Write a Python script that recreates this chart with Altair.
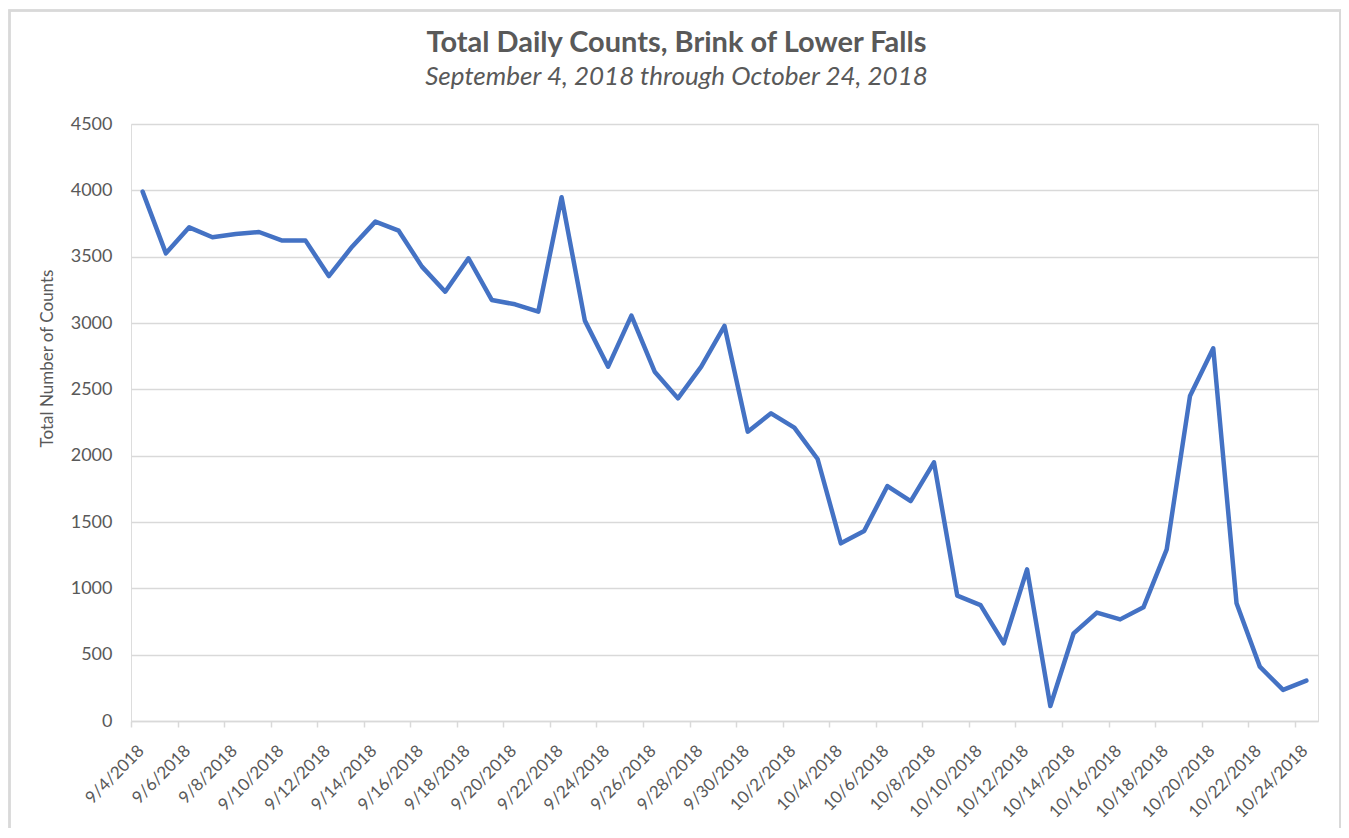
import altair as alt
import pandas as pd

# ---- data ----
start_date = "2018-09-04"
end_date = "2018-10-24"
counts = [
    3990, 3525, 3721, 3646, 3671, 3686, 3621, 3621, 3354, 3575,
    3764, 3696, 3425, 3236, 3488, 3174, 3141, 3086, 3948, 3018,
    2671, 3056, 2633, 2432, 2671, 2978, 2181, 2319, 2211, 1975,
    1339, 1432, 1771, 1658, 1950, 945, 874, 585, 1143, 113,
    661, 817, 766, 857, 1294, 2450, 2809, 887, 410, 234, 304,
]
y_ticks = [0, 500, 1000, 1500, 2000, 2500, 3000, 3500, 4000, 4500]
title_text = "Total Daily Counts, Brink of Lower Falls"
subtitle_text = "September 4, 2018 through October 24, 2018"
y_title = "Total Number of Counts"

dates = pd.date_range(start_date, end_date, freq="D")
df = pd.DataFrame({"date": dates.strftime("%Y-%m-%d"), "count": counts})

tick_dates = [
    alt.DateTime(year=d.year, month=d.month, date=d.day, utc=True) for d in dates[::2]
]

W, H = 1187, 597
GRID = "#d9d9d9"
TXT = "#595959"
FONT = "Lato"

line = alt.Chart(df).mark_line(
    color="#4472C4", strokeWidth=4.5, strokeJoin="round", strokeCap="round"
).encode(
    x=alt.X(
        "date:T",
        timeUnit="utcyearmonthdate",
        bandPosition=0.5,
        scale=alt.Scale(
            type="utc",
            domain=[
                alt.DateTime(year=2018, month=9, date=4, utc=True),
                alt.DateTime(year=2018, month=10, date=25, utc=True),
            ],
        ),
        axis=alt.Axis(
            title=None,
            values=tick_dates,
            format="%-m/%-d/%Y",
            labelAngle=-45,
            labelAlign="right",
            labelBaseline="middle",
            labelOffset=10,
            labelPadding=21,
            labelFontSize=17,
            labelColor=TXT,
            labelFont=FONT,
            labelOverlap=False,
            grid=False,
            domainColor=GRID,
            domainWidth=1.5,
            tickColor=GRID,
            tickSize=6,
            tickWidth=1.5,
        ),
    ),
    y=alt.Y(
        "count:Q",
        scale=alt.Scale(domain=[0, 4500], nice=False),
        axis=alt.Axis(
            values=y_ticks,
            format="d",
            title=y_title,
            titleFont=FONT,
            titleFontSize=17,
            titleFontWeight="normal",
            titleColor=TXT,
            titleX=-84,
            titleY=234,
            titleAngle=-90,
            titleAlign="center",
            titleBaseline="middle",
            labelFontSize=18,
            labelColor=TXT,
            labelFont=FONT,
            labelPadding=19,
            ticks=False,
            tickSize=0,
            domain=False,
            gridColor=GRID,
            gridWidth=1.5,
        ),
    ),
)

border = alt.Chart(df).mark_rect(
    fill=None, stroke=GRID, strokeWidth=1.5, clip=False
).encode(
    x=alt.value(-121.5),
    x2=alt.value(W + 22),
    y=alt.value(-113.5),
    y2=alt.value(H + 300),
)

chart = alt.layer(border, line).properties(
    width=W,
    height=H,
    autosize=alt.AutoSizeParams(type="none"),
    padding={"left": 123, "top": 116, "right": 23, "bottom": 107},
    title=alt.TitleParams(
        text=title_text,
        subtitle=subtitle_text,
        anchor="middle",
        dx=-48,
        offset=-80,
        font=FONT,
        fontSize=29,
        fontWeight="bold",
        color=TXT,
        subtitleFont=FONT,
        subtitleFontSize=26,
        subtitleFontStyle="italic",
        subtitleColor=TXT,
        subtitlePadding=6,
    ),
).configure_view(stroke=None).configure(background="white")

chart.save("out.html", embed_options={"renderer": "svg", "actions": False})
